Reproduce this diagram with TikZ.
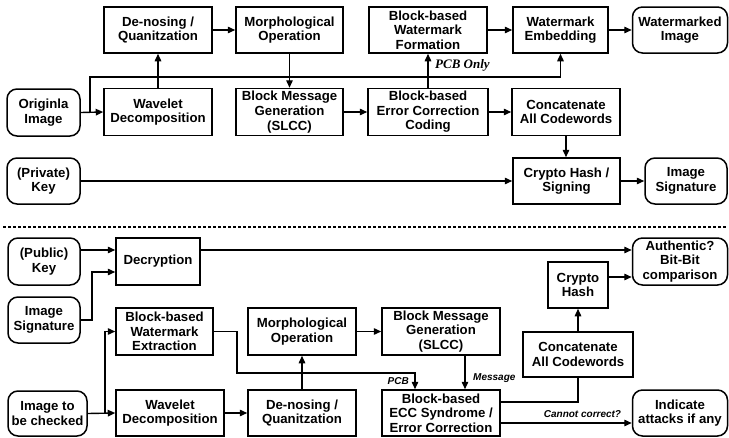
\documentclass[tikz,border=0pt]{standalone}
\usepackage{fontspec}
\setmainfont{Liberation Sans}
\newfontfamily\timesf{Liberation Serif}
\usetikzlibrary{arrows.meta}
\begin{document}
\begin{tikzpicture}[x=1pt,y=-1pt,
 box/.style={draw, line width=1.5pt, align=center, inner sep=0pt, font=\fontsize{13.2}{14.6}\selectfont\bfseries},
 rbox/.style={box, rounded corners=10pt},
 conn/.style={line width=1.4pt, -{Triangle[length=7.5pt,width=6.5pt]}},
 plain/.style={line width=1.4pt},
 lab/.style={font=\fontsize{10}{12}\selectfont\bfseries\itshape, inner sep=0pt},
 slab/.style={font=\fontsize{13}{14}\selectfont\timesf\bfseries\itshape, inner sep=0pt}
]
\useasboundingbox (0,0) rectangle (729,437);

% ---------- top part ----------
\node[box, minimum width=108pt, minimum height=46pt] (den1) at (158,30) {De-nosing /\\Quanitzation};
\node[box, minimum width=107pt, minimum height=46pt] (mor1) at (289.5,30) {Morphological\\Operation};
\node[box, minimum width=118pt, minimum height=46pt] (wmf) at (428,30) {Block-based\\Watermark\\Formation};
\node[box, minimum width=95pt, minimum height=46pt] (wme) at (560.5,30) {Watermark\\Embedding};
\node[rbox, minimum width=95pt, minimum height=46pt] (wmi) at (680,30) {Watermarked\\Image};
\node[rbox, minimum width=73pt, minimum height=47pt] (ori) at (43.5,112.5) {Originla\\Image};
\node[box, minimum width=108pt, minimum height=47pt] (wav1) at (158,112) {Wavelet\\Decomposition};
\node[box, minimum width=107pt, minimum height=47pt] (bmg1) at (289.5,112) {Block Message\\Generation\\(SLCC)};
\node[box, minimum width=120pt, minimum height=47pt] (ecc1) at (428,112) {Block-based\\Error Correction\\Coding};
\node[box, minimum width=108pt, minimum height=47pt] (cat1) at (566,112) {Concatenate\\All Codewords};
\node[rbox, minimum width=73pt, minimum height=46pt] (pkey) at (43.5,181) {(Private)\\Key};
\node[box, minimum width=107pt, minimum height=46pt] (hash1) at (566.5,181) {Crypto Hash /\\Signing};
\node[rbox, minimum width=82pt, minimum height=46pt] (isig1) at (686,181) {Image\\Signature};

\coordinate (b1) at (90,112.5);
\coordinate (t1) at (560.5,77);
\draw[conn] (ori.east) -- (wav1.west);
\draw[conn] (b1) |- (t1) -- (wme.south);
\draw[conn] (wav1.north) -- (den1.south);
\draw[conn] (den1.east) -- (mor1.west);
\draw[conn] (mor1.south) -- (bmg1.north);
\draw[conn] (bmg1.east) -- (ecc1.west);
\draw[conn] (ecc1.north) -- (wmf.south);
\draw[conn] (ecc1.east) -- (cat1.west);
\draw[conn] (wmf.east) -- (wme.west);
\draw[conn] (wme.east) -- (wmi.west);
\draw[conn] (cat1.south) -- (cat1.south |- hash1.north);
\draw[conn] (pkey.east) -- (hash1.west);
\draw[conn] (hash1.east) -- (isig1.west);
\node[slab, anchor=west] (lpcbo) at (435,65) {PCB Only};

% ---------- separator ----------
\coordinate (s1) at (3,227);
\coordinate (s2) at (727,227);
\draw[line width=1.2pt, dash pattern=on 3pt off 2pt] (s1) -- (s2);

% ---------- bottom part ----------
\node[rbox, minimum width=72pt, minimum height=47pt] (pubk) at (44,261.5) {(Public)\\Key};
\node[box, minimum width=84pt, minimum height=47pt] (dec) at (158,261.5) {Decryption};
\node[rbox, minimum width=72pt, minimum height=46pt] (isig2) at (44,320) {Image\\Signature};
\node[box, minimum width=97pt, minimum height=47pt] (wmx) at (164.5,331.5) {Block-based\\Watermark\\Extraction};
\node[box, minimum width=108pt, minimum height=47pt] (mor2) at (302,331.5) {Morphological\\Operation};
\node[box, minimum width=118pt, minimum height=47pt] (bmg2) at (441,331.5) {Block Message\\Generation\\(SLCC)};
\node[rbox, minimum width=95pt, minimum height=47pt] (auth) at (680,261.5) {Authentic?\\Bit-Bit\\comparison};
\node[box, minimum width=60pt, minimum height=46pt] (hash2) at (578,285) {Crypto\\Hash};
\node[box, minimum width=110pt, minimum height=45pt] (cat2) at (578,354.5) {Concatenate\\All Codewords};
\node[rbox, minimum width=79pt, minimum height=45pt] (itc) at (47.5,413.5) {Image to\\be checked};
\node[box, minimum width=108pt, minimum height=46pt] (wav2) at (170,413) {Wavelet\\Decomposition};
\node[box, minimum width=108pt, minimum height=46pt] (den2) at (302,413) {De-nosing /\\Quanitzation};
\node[box, minimum width=118pt, minimum height=46pt] (ecc2) at (441,413) {Block-based\\ECC Syndrome /\\Error Correction};
\node[rbox, minimum width=95pt, minimum height=46pt] (ind) at (680,413) {Indicate\\attacks if any};

\draw[conn] (pubk.east |- 0,250) -- (dec.west |- 0,250);
\draw[conn] (isig2.east) -| (92,272) -- (dec.west |- 0,272);
\draw[conn] (dec.east |- 0,250) -- (auth.west |- 0,250);
\draw[conn] (hash2.east |- 0,277) -- (auth.west |- 0,277);
\draw[conn] (itc.east) -- (wav2.west);
\coordinate (b2) at (105,413.5);
\draw[conn] (b2) |- (wmx.west);
\draw[conn] (wav2.east) -- (den2.west);
\draw[conn] (den2.north) -- (mor2.south);
\draw[conn] (mor2.east) -- (bmg2.west);
\draw[conn] (wmx.east) -| (237,373) -| (ecc2.north -| 415,0);
\draw[conn] (bmg2.south -| 465,0) -- (ecc2.north -| 465,0);
\draw[plain] (ecc2.east |- 0,402) -| (cat2.south);
\draw[conn] (cat2.north) -- (hash2.south);
\draw[conn] (ecc2.east |- 0,423) -- (ind.west |- 0,423);
\node[lab, anchor=east] (lpcb) at (409,381) {PCB};
\node[lab, anchor=west] (lmsg) at (473,378) {Message};
\node[lab] (lcc) at (582.5,414) {Cannot correct?};
\end{tikzpicture}
\end{document}
